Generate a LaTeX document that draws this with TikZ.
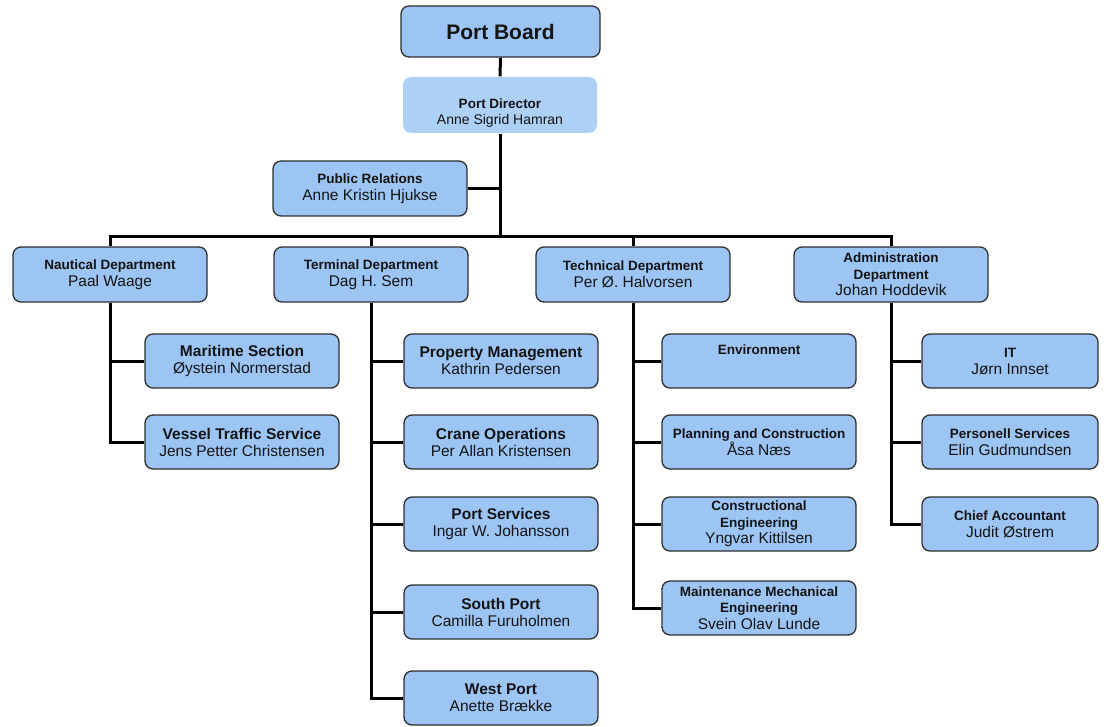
\documentclass[tikz,border=0pt]{standalone}
\usepackage{fontspec}
\setmainfont{Liberation Sans}
\definecolor{boxblue}{HTML}{9CC5F4}
\definecolor{dirblue}{HTML}{ADD0F7}
\definecolor{edgegray}{HTML}{2E2E2E}
\definecolor{txt}{HTML}{141414}
\newcommand{\tsm}[1]{{\fontsize{13.5}{16}\selectfont\bfseries #1}}
\newcommand{\tlg}[1]{{\fontsize{15.5}{18}\selectfont\bfseries #1}}
\newcommand{\nm}[1]{{\fontsize{15.5}{18}\selectfont #1}}
\pgfdeclarelayer{bg}
\pgfsetlayers{bg,main}
\begin{document}
\begin{tikzpicture}[x=1pt,y=-1pt,
  box/.style={draw=edgegray, fill=boxblue, rounded corners=8pt, line width=1.3pt,
    minimum width=194pt, minimum height=54pt, align=center, inner sep=0pt,
    text=txt, font=\fontsize{15.5}{17}\selectfont},
  dirbox/.style={box, draw=none, fill=dirblue},
  conn/.style={draw=black, line width=3pt}]
\useasboundingbox (0,0) rectangle (1110,727);

% top
\node[box, minimum width=199pt, minimum height=51pt] (PB) at (500.5,31.5) {\fontsize{21}{24}\selectfont\bfseries Port Board};
\node[dirbox, minimum height=56pt,
  label={[yshift=-8pt, align=center, text=txt, inner sep=0pt, font=\fontsize{14}{16}\selectfont]center:{\tsm{Port Director}\\Anne Sigrid Hamran}}] (PD) at (500,105) {};
\node[box, minimum height=55pt] (PR) at (370,188.5) {\tsm{Public Relations}\\\nm{Anne Kristin Hjukse}};

% departments
\node[box, minimum height=55pt] (Naut) at (110,274.5) {\tsm{Nautical Department}\\\nm{Paal Waage}};
\node[box, minimum height=55pt] (Term) at (371,274.5) {\tsm{Terminal Department}\\\nm{Dag H. Sem}};
\node[box, minimum height=55pt] (Tech) at (633,274.5) {\tsm{Technical Department}\\\nm{Per Ø. Halvorsen}};
\node[box, minimum height=55pt, font=\fontsize{15.5}{16.5}\selectfont] (Adm) at (891,274.5) {\tsm{Administration}\\\tsm{Department}\\\nm{Johan Hoddevik}};

% nautical children
\node[box] (Mar) at (242,361) {\tlg{Maritime Section}\\\nm{Øystein Normerstad}};
\node[box] (VTS) at (242,442) {\tlg{Vessel Traffic Service}\\\nm{Jens Petter Christensen}};

% terminal children
\node[box] (Prop) at (501,361) {\tlg{Property Management}\\\nm{Kathrin Pedersen}};
\node[box] (Crane) at (501,442) {\tlg{Crane Operations}\\\nm{Per Allan Kristensen}};
\node[box] (PServ) at (501,524) {\tlg{Port Services}\\\nm{Ingar W. Johansson}};
\node[box] (South) at (501,612) {\tlg{South Port}\\\nm{Camilla Furuholmen}};
\node[box] (West) at (501,698) {\tlg{West Port}\\\nm{Anette Brække}};

% technical children
\node[box] (Env) at (759,361) {\tsm{Environment}\\\nm{\strut}};
\node[box] (Plan) at (759,442) {\tsm{Planning and Construction}\\\nm{Åsa Næs}};
\node[box, font=\fontsize{15.5}{16.5}\selectfont] (Constr) at (759,524) {\tsm{Constructional}\\\tsm{Engineering}\\\nm{Yngvar Kittilsen}};
\node[box, font=\fontsize{15.5}{16.5}\selectfont] (Maint) at (759,608) {\tsm{Maintenance Mechanical}\\\tsm{Engineering}\\\nm{Svein Olav Lunde}};

% administration children
\node[box, minimum width=176pt] (IT) at (1010,361) {\tsm{IT}\\\nm{Jørn Innset}};
\node[box, minimum width=176pt] (Pers) at (1010,442) {\tsm{Personell Services}\\\nm{Elin Gudmundsen}};
\node[box, minimum width=176pt] (Chief) at (1010,524) {\tsm{Chief Accountant}\\\nm{Judit Østrem}};

\coordinate (bus) at (500,237);

\begin{pgfonlayer}{bg}
\draw[conn] (PB.south) -- (PD.north);
\draw[conn] (PD.south) -- (bus);
\draw[conn] (PR.east) -- (PR.east -| bus);
\draw[conn] (Naut.north) |- (Adm.north |- bus) -- (Adm.north);
\draw[conn] (Term.north) -- (Term.north |- bus);
\draw[conn] (Tech.north) -- (Tech.north |- bus);

\draw[conn] (Naut.south) |- (Mar.west);
\draw[conn] (Naut.south) |- (VTS.west);

\draw[conn] (Term.south) |- (Prop.west);
\draw[conn] (Term.south) |- (Crane.west);
\draw[conn] (Term.south) |- (PServ.west);
\draw[conn] (Term.south) |- (South.west);
\draw[conn] (Term.south) |- (West.west);

\draw[conn] (Tech.south) |- (Env.west);
\draw[conn] (Tech.south) |- (Plan.west);
\draw[conn] (Tech.south) |- (Constr.west);
\draw[conn] (Tech.south) |- (Maint.west);

\draw[conn] (Adm.south) |- (IT.west);
\draw[conn] (Adm.south) |- (Pers.west);
\draw[conn] (Adm.south) |- (Chief.west);
\end{pgfonlayer}
\end{tikzpicture}
\end{document}
